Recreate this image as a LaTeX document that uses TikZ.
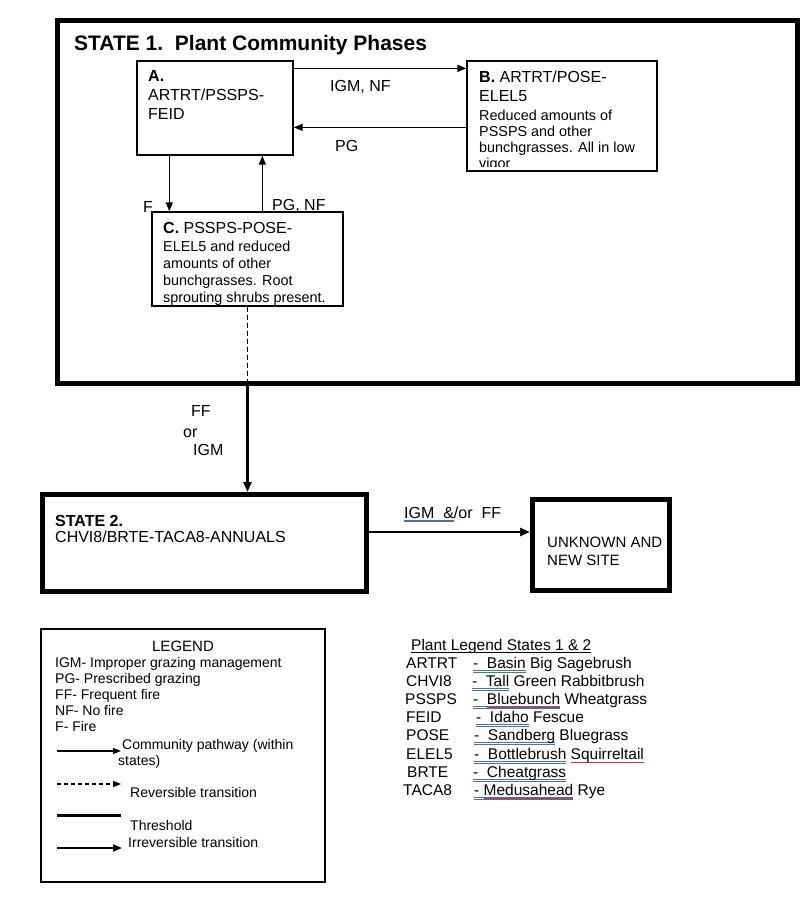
\documentclass[tikz,border=0pt]{standalone}
\usepackage{fontspec}
\setmainfont{Liberation Sans}
\usetikzlibrary{arrows.meta,calc}
\definecolor{linkblue}{RGB}{70,115,175}
\definecolor{spellred}{RGB}{215,45,45}
\newcommand\setfs[2]{\fontsize{#1}{#2}\selectfont}
\newcommand\ublue[1]{\setbox0\hbox{#1}\rlap{\color{linkblue}\rule[-2.4pt]{\wd0}{0.7pt}}\rlap{\color{linkblue}\rule[-4.0pt]{\wd0}{0.6pt}}\box0\relax}
\newcommand\ured[1]{\setbox2\hbox{#1}\rlap{\color{spellred}\rule[-3.4pt]{\wd2}{0.7pt}}\box2\relax}
\newcommand\ublack[1]{\setbox4\hbox{#1}\rlap{\rule[-2.4pt]{\wd4}{0.8pt}}\box4\relax}
\begin{document}
\begin{tikzpicture}[x=1pt,y=-1pt,
  box/.style={draw, line width=1.3pt, inner sep=0},
  sbox/.style={draw, line width=5pt, inner sep=0},
  txt/.style={inner sep=0, align=left, anchor=north west},
  lbl/.style={inner sep=0, anchor=base west},
  arr/.style={line width=1.4pt, -{Triangle[length=9pt,width=7pt]}},
  tarr/.style={line width=2.6pt, -{Triangle[length=10pt,width=8pt]}},
  big/.style={font=\setfs{16}{19}},
  small/.style={font=\setfs{14.4}{17}},
]
\useasboundingbox (0,0) rectangle (800,907);
\fill[white] (0,0) rectangle (800,907);

% State 1
\node[sbox, minimum width=740, minimum height=362] (S1) at (427,202) {};
\node[lbl, font={\bfseries\setfs{21}{25}}] (title) at (74,51) {STATE 1.\ \ Plant Community Phases};

% Phase boxes
\node[box, minimum width=156, minimum height=94] (A) at (215,108) {};
\node[txt, big] (Atext) at (148,70.5) {\textbf{A.}\\ARTRT/PSSPS-\\FEID};

\node[box, minimum width=190, minimum height=110] (B) at (562,116) {};
\node[txt, big] (Btitle) at (479,70.5) {\textbf{B.} ARTRT/POSE-\\ELEL5};
\begin{scope}
  \clip (B.north west) rectangle ([yshift=5pt]B.south east);
  \node[txt, font=\setfs{14.4}{16}] (Bbody) at (479,109.5) {Reduced amounts of\\PSSPS and other\\bunchgrasses. All in low\\vigor};
\end{scope}

\node[box, minimum width=191, minimum height=94] (C) at (247.5,259) {};
\node[txt, big] (Ctitle) at (163,222.5) {\textbf{C.} PSSPS-POSE-};
\node[txt, small] (Cbody) at (163,240.7) {ELEL5 and reduced\\amounts of other\\bunchgrasses. Root\\sprouting shrubs present.};

% Community pathways
\draw[arr] ([yshift=-8pt]A.north east) -- ([yshift=-8pt]A.north east -| B.west);
\node[lbl, big] (l1) at (330,91) {IGM, NF};
\draw[arr] ([yshift=-67pt]B.north west) -- ([yshift=-67pt]B.north west -| A.east);
\node[lbl, big] (l2) at (335,151) {PG};
\draw[arr] ([xshift=33pt]A.south west) -- ([xshift=33pt]A.south west |- C.north);
\node[lbl, big] (l3) at (143,212) {F};
\draw[arr] ([xshift=126pt]A.south west |- C.north) -- ([xshift=126pt]A.south west);
\node[lbl, big] (l4) at (272,210) {PG, NF};

% Reversible / threshold transition
\draw[line width=1.2pt, dash pattern=on 5pt off 3pt] (C.south) -- (C.south |- S1.south);

\node[sbox, minimum width=323.5, minimum height=96.5] (S2) at (204.25,542.75) {};
\node[lbl, font={\bfseries\setfs{16}{19}}] (S2a) at (55,526) {STATE 2.};
\node[lbl, big] (S2b) at (55,542) {CHVI8/BRTE-TACA8-ANNUALS};

\draw[tarr] (C.south |- S1.south) -- (C.south |- S2.north);
\node[lbl, big] (l5) at (191,416) {FF};
\node[lbl, big] (l6) at (183,437) {or};
\node[lbl, big] (l7) at (193,455) {IGM};

\node[sbox, minimum width=137, minimum height=91] (U) at (601,545) {};
\node[txt, font=\setfs{15}{17.5}] (Utext) at (547,537) {UNKNOWN AND\\NEW SITE};

\draw[tarr] ([yshift=10.75pt]S2.east) -- ([yshift=10.75pt]S2.east -| U.west);
\node[lbl, big] (l8) at (404,518) {\ublue{IGM \ \&}/or\ \ FF};

% Legend
\node[box, minimum width=284, minimum height=253] (L) at (183,755.5) {};
\node[inner sep=0, anchor=base, font=\setfs{15}{17}] (Lt) at (183,651) {LEGEND};
\node[txt, font=\setfs{14}{16}] (Lx) at (55,657) {IGM- Improper grazing management\\PG- Prescribed grazing\\FF- Frequent fire\\NF- No fire\\F- Fire};
\coordinate (p1a) at (57,751); \coordinate (p1b) at (121,751);
\draw[line width=1.2pt, -{Triangle[length=8pt,width=6pt]}] (p1a) -- (p1b);
\node[lbl, font=\setfs{14}{16}] (Lc1) at (122,749) {Community pathway (within};
\node[lbl, font=\setfs{14}{16}] (Lc2) at (118,765) {states)};
\coordinate (p2a) at (57,784); \coordinate (p2b) at (121,784);
\draw[line width=1.2pt, dash pattern=on 4pt off 3pt, -{Triangle[length=8pt,width=6pt]}] (p2a) -- (p2b);
\node[lbl, font=\setfs{14}{16}] (Lr) at (130,797) {Reversible transition};
\coordinate (p3a) at (57,815); \coordinate (p3b) at (121,815);
\draw[line width=3pt] (p3a) -- (p3b);
\node[lbl, font=\setfs{14}{16}] (Lth) at (130,830) {Threshold};
\coordinate (p4a) at (57,848); \coordinate (p4b) at (122,848);
\draw[line width=2pt, -{Triangle[length=9pt,width=7pt]}] (p4a) -- (p4b);
\node[lbl, font=\setfs{14}{16}] (Lir) at (128,847) {Irreversible transition};

% Plant legend
\begin{scope}[every node/.style={lbl, font=\setfs{15.5}{18}}]
\node (ph) at (411,650) {\ublack{Plant Legend States 1 \& 2}};
\node (c1) at (406,668.5) {ARTRT};
\node (d1) at (473,668.5) {\ublue{-\ \ Basin} Big Sagebrush};
\node (c2) at (406,686.5) {CHVI8};
\node (d2) at (472,686.5) {\ublue{-\ \ Tall} Green Rabbitbrush};
\node (c3) at (405,704.5) {PSSPS};
\node (d3) at (473,704.5) {\ublue{-\ \ \ured{Bluebunch}} Wheatgrass};
\node (c4) at (406,722.5) {FEID};
\node (d4) at (476,722.5) {\ublue{-\ \ Idaho} Fescue};
\node (c5) at (406,740.5) {POSE};
\node (d5) at (474,740.5) {\ublue{-\ \ Sandberg} Bluegrass};
\node (c6) at (406,759.5) {ELEL5};
\node (d6) at (474,759.5) {\ublue{-\ \ Bottlebrush} \ured{Squirreltail}};
\node (c7) at (407,777.5) {BRTE};
\node (d7) at (473,777.5) {\ublue{-\ \ Cheatgrass}};
\node (c8) at (403,795.5) {TACA8};
\node (d8) at (474,795.5) {\ublue{-\ \ured{Medusahead}} Rye};
\end{scope}
\end{tikzpicture}
\end{document}
